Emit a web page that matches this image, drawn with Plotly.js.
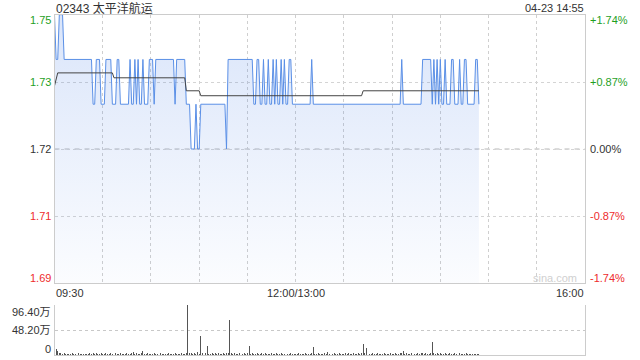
<!DOCTYPE html>
<html>
<head>
<meta charset="utf-8">
<script src="https://cdn.plot.ly/plotly-3.0.1.min.js"></script>
<style>
  html, body { margin: 0; padding: 0; background: #fff; }
  #chart { width: 640px; height: 360px; }
</style>
</head>
<body>
<div id="chart"></div>
<script>
// ---- data (minutes since 09:30, lunch break removed) ----
const title = '02343 太平洋航运';
const stamp = '04-23 14:55';
const prevClose = 1.72;
const pctLevels = [1.74, 0.87, 0, -0.87, -1.74];
const leftLabels = ['1.75', '1.73', '1.72', '1.71', '1.69'];
const rightLabels = ['+1.74%', '+0.87%', '0.00%', '-0.87%', '-1.74%'];
const timeTickPos = [0, 150, 330];
const timeTickText = ['09:30', '12:00/13:00', '16:00'];
const volTicks = [96.4, 48.2, 0];
const volTickText = ['96.40万', '48.20万', '0'];

const priceTimes = [0,1,2,3,5,6,23,24,25,26,28,29,31,32,35,36,38,39,40,41,46,47,48,49,50,51,52,53,54,55,56,58,59,61,62,63,74,75,76,81,82,84,85,87,88,89,90,91,106,107,108,123,124,125,126,127,128,129,130,131,132,133,134,135,136,137,138,139,140,141,142,143,144,145,146,147,148,159,160,161,215,216,217,228,229,234,235,236,237,238,239,240,241,242,243,244,246,247,248,249,251,252,253,254,255,256,257,261,262,263,264];
const prices = [1.75,1.74,1.74,1.75,1.75,1.74,1.74,1.73,1.73,1.74,1.74,1.73,1.73,1.74,1.74,1.73,1.73,1.74,1.74,1.73,1.73,1.74,1.73,1.73,1.74,1.73,1.74,1.73,1.73,1.74,1.73,1.73,1.74,1.74,1.73,1.74,1.74,1.73,1.74,1.74,1.73,1.73,1.72,1.72,1.73,1.72,1.72,1.73,1.73,1.72,1.74,1.74,1.73,1.73,1.74,1.74,1.73,1.73,1.74,1.73,1.73,1.74,1.73,1.73,1.74,1.73,1.74,1.73,1.73,1.74,1.73,1.74,1.73,1.73,1.74,1.74,1.73,1.73,1.74,1.73,1.73,1.74,1.73,1.73,1.74,1.74,1.73,1.74,1.73,1.74,1.73,1.74,1.73,1.73,1.74,1.73,1.73,1.74,1.74,1.73,1.73,1.74,1.73,1.73,1.74,1.74,1.73,1.73,1.74,1.74,1.73];

const avgTimes = [0, 2, 36, 37, 81, 82, 90, 91, 191, 192, 264];
const avgPrices = [1.7341, 1.7370, 1.7370, 1.7359, 1.7359, 1.7330, 1.7330, 1.7319, 1.7319, 1.7330, 1.7330];

// volume per minute, in 万 shares
const volumes = [
  25.6,11.6,7.7,4.2,3.1,2.5,3.0,2.2,1.8,2.6,
  2.0,3.1,2.4,1.9,2.7,3.3,2.1,1.6,2.9,2.2,
  2.5,1.8,3.4,2.0,4.1,2.6,3.2,2.3,2.8,3.6,
  2.1,2.9,3.3,2.4,2.0,3.0,2.7,11.6,3.2,2.5,
  2.2,3.1,2.6,2.0,2.8,3.4,2.3,2.9,3.7,6.4,
  2.4,3.0,2.1,2.7,3.2,8.4,2.6,2.2,3.1,2.5,
  2.0,2.8,3.3,2.4,1.9,2.6,3.0,2.2,2.7,2.1,
  2.5,3.1,2.3,1.8,2.9,3.5,2.2,2.6,2.0,3.2,
  2.4,2.8,3.6,96.4,3.1,4.4,2.9,3.3,2.5,6.0,
  2.7,37.3,3.2,2.4,3.6,18.0,2.8,2.3,3.4,2.6,
  3.0,2.2,3.8,2.5,2.9,3.3,2.1,4.2,3.6,67.5,
  3.4,2.6,3.1,2.4,2.9,3.5,2.2,2.7,3.0,2.5,
  3.2,18.0,2.8,3.4,2.3,2.9,3.1,2.6,2.2,3.0,
  2.7,3.3,2.4,2.9,2.1,3.5,2.6,2.3,3.1,2.8,
  2.5,3.2,2.2,2.9,3.4,2.4,2.7,3.0,2.3,2.6,
  2.8,2.2,3.1,2.5,2.0,2.9,3.3,2.4,2.1,2.7,
  3.2,16.0,2.6,2.3,3.0,2.5,2.8,2.1,3.4,2.6,
  6.4,2.4,2.9,2.2,3.1,2.7,2.3,3.0,2.5,2.8,
  2.2,3.3,2.6,4.5,2.4,2.9,3.2,2.1,2.7,3.0,
  2.5,3.4,21.2,3.1,12.9,2.6,2.8,2.3,3.0,2.4,
  2.7,3.2,2.2,2.9,2.5,3.1,2.6,2.0,2.8,3.3,
  2.4,2.9,3.0,2.3,2.7,3.5,4.0,8.3,2.6,3.1,
  2.2,2.8,3.2,2.5,2.9,2.4,3.0,2.6,3.4,4.2,
  2.7,3.1,2.5,2.9,3.3,25.6,3.6,2.8,3.2,2.6,
  3.0,2.4,2.9,3.3,2.5,2.8,3.1,2.2,2.7,3.0,
  2.6,2.3,3.2,2.8,2.4,2.9,3.1,2.5,2.0,2.7,
  2.4,2.9,2.2,2.6,2.1
];

// ---- layout helpers ----
const W = 640, H = 360;
const FONT = 'Arial, "Liberation Sans", "Noto Sans CJK SC", sans-serif';
const GREEN = '#1f9f1f', RED = '#ee2c2c', DARK = '#333333';
const px = v => v / W;
const py = v => (H - v) / H;
const yMin = prevClose * (1 - 1.74 / 100);
const yMax = prevClose * (1 + 1.74 / 100);
const levelValues = pctLevels.map(p => prevClose * (1 + p / 100));
const colorFor = p => p > 0 ? GREEN : (p < 0 ? RED : DARK);
const edgeShift = i => i === 0 ? -5 : (i === pctLevels.length - 1 ? 5 : 0);

const traces = [
  {
    x: priceTimes, y: prices, type: 'scatter', mode: 'lines',
    line: { color: '#5a8fe6', width: 1 },
    fill: 'tozeroy',
    fillgradient: {
      type: 'vertical', start: yMin, stop: yMax,
      colorscale: [[0, 'rgba(70,125,230,0.02)'], [1, 'rgba(70,125,230,0.2)']]
    },
    xaxis: 'x', yaxis: 'y', hoverinfo: 'skip'
  },
  {
    x: avgTimes, y: avgPrices, type: 'scatter', mode: 'lines',
    line: { color: '#444444', width: 1 },
    xaxis: 'x', yaxis: 'y', hoverinfo: 'skip'
  },
  {
    x: volumes.map((v, i) => i), y: volumes, type: 'bar',
    width: 0.6,
    marker: { color: '#555555', line: { width: 0 } },
    xaxis: 'x2', yaxis: 'y2', hoverinfo: 'skip'
  }
];

const annotations = [];
annotations.push({ xref: 'paper', yref: 'paper', x: px(55), y: py(8), xanchor: 'left', yanchor: 'middle',
  text: title, showarrow: false, font: { family: FONT, size: 12, color: DARK }, borderpad: 0 });
annotations.push({ xref: 'paper', yref: 'paper', x: px(585), y: py(8), xanchor: 'right', yanchor: 'middle',
  text: stamp, showarrow: false, font: { family: FONT, size: 11, color: DARK }, borderpad: 0 });
pctLevels.forEach((p, i) => {
  annotations.push({ xref: 'paper', yref: 'y', x: px(52), y: levelValues[i], xanchor: 'right', yanchor: 'middle',
    yshift: edgeShift(i), text: leftLabels[i], showarrow: false, borderpad: 0,
    font: { family: FONT, size: 11, color: colorFor(p) } });
  annotations.push({ xref: 'paper', yref: 'y', x: px(589), y: levelValues[i], xanchor: 'left', yanchor: 'middle',
    yshift: edgeShift(i), text: rightLabels[i], showarrow: false, borderpad: 0,
    font: { family: FONT, size: 11, color: colorFor(p) } });
});
const tAnch = ['left', 'center', 'right'];
timeTickPos.forEach((t, i) => {
  annotations.push({ xref: 'x', yref: 'paper', x: t, y: py(293), xanchor: tAnch[i], yanchor: 'middle',
    text: timeTickText[i], showarrow: false, borderpad: 0, font: { family: FONT, size: 11, color: DARK } });
});
const vShift = [-6.5, 0.5, 6.5];
volTicks.forEach((v, i) => {
  annotations.push({ xref: 'paper', yref: 'y2', x: px(52), y: v, xanchor: 'right', yanchor: 'middle',
    yshift: vShift[i], text: volTickText[i], showarrow: false, borderpad: 0,
    font: { family: FONT, size: 11, color: DARK } });
});
annotations.push({ xref: 'paper', yref: 'paper', x: px(578), y: py(278), xanchor: 'right', yanchor: 'middle',
  text: 'sina.com', showarrow: false, borderpad: 0, font: { family: FONT, size: 11, color: '#d0d0d0' } });

const xDomain = [px(54.5), px(585)];
const layout = {
  width: W, height: H,
  margin: { l: 0, r: 0, t: 0, b: 0, pad: 0 },
  paper_bgcolor: '#ffffff', plot_bgcolor: 'rgba(0,0,0,0)',
  showlegend: false,
  bargap: 0,
  xaxis: {
    domain: xDomain, range: [0, 330], anchor: 'y',
    tickmode: 'linear', tick0: 0, dtick: 30,
    showticklabels: false, ticks: '',
    showgrid: true, gridcolor: '#cfcfcf', griddash: 'dot', gridwidth: 1,
    zeroline: false, showline: true, mirror: true, linecolor: '#cccccc', linewidth: 1
  },
  yaxis: {
    domain: [py(283), py(15)], range: [yMin, yMax], anchor: 'x',
    tickmode: 'array', tickvals: [levelValues[1], levelValues[2], levelValues[3]],
    showticklabels: false, ticks: '',
    showgrid: true, gridcolor: '#d4d4d4', griddash: 'dot', gridwidth: 1,
    zeroline: false, showline: true, mirror: true, linecolor: '#cccccc', linewidth: 1
  },
  xaxis2: {
    domain: xDomain, range: [0, 330], anchor: 'y2', matches: 'x',
    showticklabels: false, ticks: '', showgrid: false, zeroline: false,
    showline: true, linecolor: '#cccccc', linewidth: 1
  },
  yaxis2: {
    domain: [py(355), py(305)], range: [0, 96.4], anchor: 'x2',
    tickmode: 'array', tickvals: [48.2, 96.4],
    showticklabels: false, ticks: '',
    showgrid: true, gridcolor: '#c8c8c8', griddash: 'dot', gridwidth: 1,
    zeroline: false, showline: true, mirror: true, linecolor: '#cccccc', linewidth: 1
  },
  shapes: [
    { type: 'line', xref: 'x', yref: 'y', x0: 0, x1: 330, y0: prevClose, y1: prevClose,
      line: { color: '#b8b8b8', width: 1, dash: '5px,5px' }, layer: 'below' }
  ],
  annotations: annotations
};

Plotly.newPlot('chart', traces, layout, { staticPlot: true, displayModeBar: false });
</script>
</body>
</html>
